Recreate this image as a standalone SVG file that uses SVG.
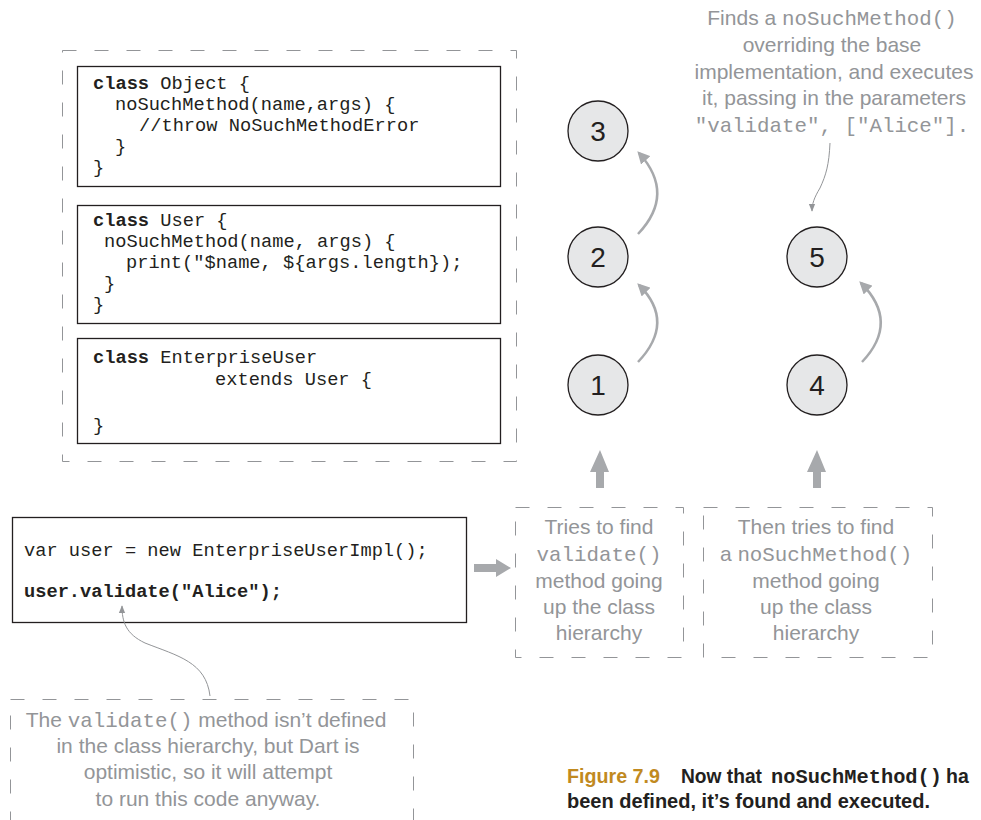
<svg xmlns="http://www.w3.org/2000/svg" width="981" height="820" viewBox="0 0 981 820">
<style>
.mono{font-family:"Liberation Mono","Courier New",monospace;font-size:18.7px;fill:#231f20}
.b{font-weight:bold}
.note{font-family:"Liberation Sans",Arial,sans-serif;font-size:21px;fill:#939598;text-anchor:middle}
.nm{font-family:"Liberation Mono","Courier New",monospace;font-size:20.8px;fill:#939598}
.dash{fill:none;stroke:#939598;stroke-width:1;stroke-dasharray:14 18}
.box{fill:#fff;stroke:#231f20;stroke-width:1.3}
.circ{fill:#e6e7e8;stroke:#231f20;stroke-width:1.3}
.num{font-family:"Liberation Sans",Arial,sans-serif;font-size:28px;fill:#231f20;text-anchor:middle}
.curve{fill:none;stroke:#a7a9ac;stroke-width:2.5}
.thin{fill:none;stroke:#939598;stroke-width:1}
.block{fill:#a7a9ac}
.cap{font-family:"Liberation Sans",Arial,sans-serif;font-size:19.5px;font-weight:bold}
</style>
<defs>
<marker id="ah" viewBox="0 0 10 10" refX="8" refY="5" markerWidth="5" markerHeight="5" orient="auto" markerUnits="strokeWidth">
<path d="M0,0 L10,5 L0,10 z" fill="#a7a9ac"/>
</marker>
<marker id="ahs" viewBox="0 0 10 10" refX="9" refY="5" markerWidth="8" markerHeight="8" orient="auto" markerUnits="strokeWidth">
<path d="M0,1 L10,5 L0,9 z" fill="#939598"/>
</marker>
</defs>

<g id="classes-container">
<rect class="dash" x="62.5" y="50.5" width="454" height="411"/>
</g>

<g id="class-object">
<rect class="box" x="77.5" y="66.5" width="423" height="120"/>
<text class="mono" x="93" y="89"><tspan class="b">class</tspan> Object {</text>
<text class="mono" x="115" y="110">noSuchMethod(name,args) {</text>
<text class="mono" x="139" y="131">//throw NoSuchMethodError</text>
<text class="mono" x="115" y="152">}</text>
<text class="mono" x="93" y="173">}</text>
</g>

<g id="class-user">
<rect class="box" x="77.5" y="205.5" width="423" height="118"/>
<text class="mono" x="93" y="226"><tspan class="b">class</tspan> User {</text>
<text class="mono" x="104" y="247">noSuchMethod(name, args) {</text>
<text class="mono" x="126" y="268">print("$name, ${args.length});</text>
<text class="mono" x="104" y="289">}</text>
<text class="mono" x="93" y="310">}</text>
</g>

<g id="class-enterpriseuser">
<rect class="box" x="77.5" y="338.5" width="423" height="105"/>
<text class="mono" x="93" y="363"><tspan class="b">class</tspan> EnterpriseUser</text>
<text class="mono" x="215" y="385">extends User {</text>
<text class="mono" x="93" y="431">}</text>
</g>

<g id="code">
<rect class="box" x="12.5" y="517.5" width="454" height="105"/>
<text class="mono" x="24" y="556">var user = new EnterpriseUserImpl();</text>
<text class="mono b" x="24" y="597">user.validate("Alice");</text>
</g>

<g id="note-validate">
<rect class="dash" x="10.5" y="699.5" width="403" height="140"/>
<text class="note" x="206" y="727">The <tspan class="nm">validate()</tspan> method isn’t defined</text>
<text class="note" x="208" y="753">in the class hierarchy, but Dart is</text>
<text class="note" x="208" y="779">optimistic, so it will attempt</text>
<text class="note" x="208" y="806">to run this code anyway.</text>
</g>

<g id="note-tries">
<rect class="dash" x="515.5" y="507.5" width="168" height="150"/>
<text class="note" x="599" y="534">Tries to find</text>
<text class="nm" x="599" y="561" text-anchor="middle">validate()</text>
<text class="note" x="599" y="588">method going</text>
<text class="note" x="599" y="614">up the class</text>
<text class="note" x="599" y="640">hierarchy</text>
</g>

<g id="note-then">
<rect class="dash" x="703.5" y="507.5" width="229" height="150"/>
<text class="note" x="816" y="534">Then tries to find</text>
<text class="note" x="816" y="561">a <tspan class="nm">noSuchMethod()</tspan></text>
<text class="note" x="816" y="588">method going</text>
<text class="note" x="816" y="614">up the class</text>
<text class="note" x="816" y="640">hierarchy</text>
</g>

<g id="note-finds">
<text class="note" x="832" y="25">Finds a <tspan class="nm">noSuchMethod()</tspan></text>
<text class="note" x="832" y="52">overriding the base</text>
<text class="note" x="834" y="79">implementation, and executes</text>
<text class="note" x="834" y="105">it, passing in the parameters</text>
<text class="nm" x="832" y="132" text-anchor="middle">"validate", ["Alice"].</text>
</g>

<g id="node-1"><circle class="circ" cx="598" cy="385" r="30"/><text class="num" x="598" y="395">1</text></g>
<g id="node-2"><circle class="circ" cx="598" cy="257" r="30"/><text class="num" x="598" y="267">2</text></g>
<g id="node-3"><circle class="circ" cx="598" cy="131" r="30"/><text class="num" x="598" y="141">3</text></g>
<g id="node-4"><circle class="circ" cx="817" cy="385" r="30"/><text class="num" x="817" y="395">4</text></g>
<g id="node-5"><circle class="circ" cx="817" cy="257" r="30"/><text class="num" x="817" y="267">5</text></g>

<g id="connectors">
<path class="curve" d="M638,362 Q676,322 639,285" marker-end="url(#ah)"/>
<path class="curve" d="M638,234 Q676,194 639,153" marker-end="url(#ah)"/>
<path class="curve" d="M862,362 Q900,322 861,283" marker-end="url(#ah)"/>
<path class="block" d="M596,488 L604,488 L604,472 L609,472 L600,450 L590,472 L596,472 Z"/>
<path class="block" d="M813,488 L821,488 L821,472 L826,472 L817,450 L807,472 L813,472 Z"/>
<path class="block" d="M474,564 L496,564 L496,559 L511,568 L496,577 L496,572 L474,572 Z"/>
<path class="thin" d="M830,143 C829,165 826,175 820,188 C814,198 812,204 812,211" marker-end="url(#ahs)"/>
<path class="thin" d="M210,696 C206,662 178,656 145,643 C126,634 122,622 122,606" marker-end="url(#ahs)"/>
</g>

<g id="caption">
<text class="cap" x="567" y="783" fill="#c18a1f" textLength="93" lengthAdjust="spacingAndGlyphs">Figure 7.9</text>
<text class="cap" x="681" y="783" fill="#231f20" textLength="81" lengthAdjust="spacingAndGlyphs">Now that</text>
<text x="771" y="783" fill="#231f20" textLength="171" lengthAdjust="spacingAndGlyphs" style="font-family:'Liberation Mono','Courier New',monospace;font-size:20px;font-weight:bold">noSuchMethod()</text>
<text class="cap" x="946" y="783" fill="#231f20">ha</text>
<text class="cap" x="567" y="808" fill="#231f20" textLength="363" lengthAdjust="spacingAndGlyphs">been defined, it’s found and executed.</text>
</g>
</svg>
